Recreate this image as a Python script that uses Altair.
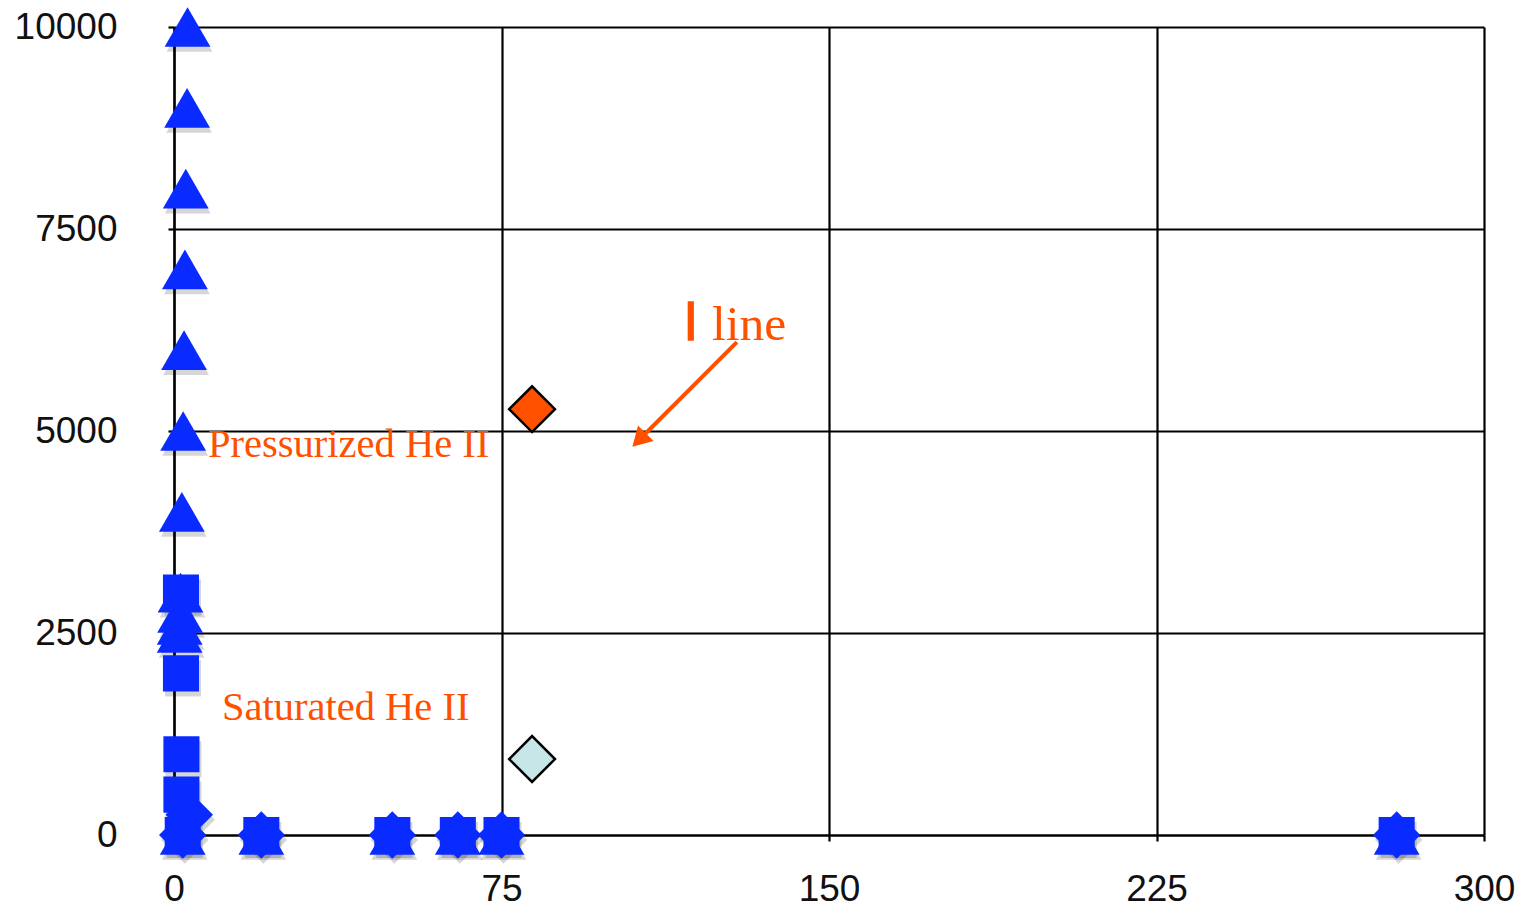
import altair as alt
import pandas as pd

# Measurements (x, y) for each marker series
tri_x = [3.1, 3.0, 2.7, 2.5, 2.3, 2.1, 1.8, 1.5, 1.4, 1.3, 1.3, 2.0, 20, 50, 65, 75, 280]
tri_y = [10000, 9000, 8000, 7000, 6000, 5000, 4000, 3000, 2750, 2600, 2500, 0, 0, 0, 0, 0, 0]

sq_x = [1.6, 1.6, 1.7, 1.7, 2.0, 20, 50, 65, 75, 280]
sq_y = [3000, 2000, 1000, 500, 0, 0, 0, 0, 0, 0]

dia_x = [3.5, 2.0, 20, 50, 65, 75, 280]
dia_y = [250, 0, 0, 0, 0, 0, 0]

hot_x = [82]
hot_y = [5270]
cold_x = [82]
cold_y = [940]

x_ticks = [0, 75, 150, 225, 300]
y_ticks = [0, 2500, 5000, 7500, 10000]

# Annotation texts and anchor positions (data units)
note_text = ["Pressurized He II", "Saturated He II", "line"]
note_x = [7.8, 11.0, 123.2]
note_y = [4680, 1420, 6125]
bar_text = ["l"]
bar_x = [117.0]
bar_y = [6125]
arrow_x = [128.9, 106.5]
arrow_y = [6101, 4889]

BLUE = "#0a2bff"
ORANGE = "#ff5000"

xs = alt.Scale(domain=[0, 300], nice=False, zero=True)
ys = alt.Scale(domain=[0, 10000], nice=False, zero=True)

x_axis = alt.Axis(values=x_ticks, format="d", title=None, labelFontSize=37,
                  labelFont="Liberation Sans", labelColor="#111111", grid=True,
                  gridColor="#000000", gridWidth=2.2, gridOpacity=1, domainColor="#000000",
                  domainWidth=2.2, tickColor="#000000", tickWidth=2.2, tickSize=6,
                  labelPadding=30, labelFlush=False, labelOverlap=False, zindex=0)
y_axis = alt.Axis(values=y_ticks, format="d", title=None, labelFontSize=37,
                  labelFont="Liberation Sans", labelColor="#111111", grid=True,
                  gridColor="#000000", gridWidth=2.2, gridOpacity=1, domainColor="#000000",
                  domainWidth=2.2, tickColor="#000000", tickWidth=2.2, tickSize=6,
                  labelPadding=51, labelOverlap=False, zindex=0)


def xy():
    return dict(x=alt.X("x:Q", scale=xs, axis=x_axis), y=alt.Y("y:Q", scale=ys, axis=y_axis))


def frame(xv, yv):
    return pd.DataFrame({"x": xv, "y": yv})


def points(xv, yv, shape, size, color, stroke=None, shadow=False):
    kw = dict(shape=shape, size=size, filled=True, opacity=1, clip=False)
    if shadow:
        kw.update(color="#000000", opacity=0.16)
    else:
        kw.update(color=color)
        if stroke:
            kw.update(stroke=stroke, strokeWidth=2.5)
    enc = xy()
    if shadow:
        enc.update(xOffset=alt.value(2), yOffset=alt.value(5))
    return alt.Chart(frame(xv, yv)).mark_point(**kw).encode(**enc)


layers = []
# soft drop shadows first
layers.append(points(tri_x, tri_y, "triangle-up", 2100, BLUE, shadow=True))
layers.append(points(sq_x, sq_y, "square", 1300, BLUE, shadow=True))
layers.append(points(dia_x, dia_y, "diamond", 2250, BLUE, shadow=True))
# markers
layers.append(points(tri_x, tri_y, "triangle-up", 2100, BLUE))
layers.append(points(sq_x, sq_y, "square", 1300, BLUE))
layers.append(points(dia_x, dia_y, "diamond", 2250, BLUE))
layers.append(points(hot_x, hot_y, "diamond", 2100, ORANGE, stroke="#000000"))
layers.append(points(cold_x, cold_y, "diamond", 2100, "#c6e6e8", stroke="#000000"))

# annotation labels
notes = pd.DataFrame({"t": note_text, "x": note_x, "y": note_y, "s": [40.5, 40.5, 49.5]})
layers.append(
    alt.Chart(notes).mark_text(font="Liberation Serif", color=ORANGE, align="left",
                               baseline="alphabetic").encode(
        **xy(), text="t:N", size=alt.Size("s:Q", scale=None, legend=None))
)
layers.append(
    alt.Chart(frame(bar_x, bar_y).assign(t=bar_text)).mark_text(
        font="Liberation Sans", fontSize=52, color=ORANGE, stroke=ORANGE, strokeWidth=1.6,
        align="left", baseline="alphabetic").encode(**xy(), text="t:N")
)

# arrow pointing at the phase boundary
arrow = pd.DataFrame({"x": [arrow_x[0]], "y": [arrow_y[0]], "x2": [arrow_x[1]], "y2": [arrow_y[1]]})
layers.append(
    alt.Chart(arrow).mark_rule(color=ORANGE, strokeWidth=4).encode(**xy(), x2="x2:Q", y2="y2:Q")
)
layers.append(
    alt.Chart(frame([arrow_x[1]], [arrow_y[1]])).mark_point(
        shape="triangle-up", size=480, filled=True, color=ORANGE, opacity=1, angle=225
    ).encode(**xy())
)

chart = alt.layer(*layers).properties(
    width=1310, height=808,
    autosize=alt.AutoSizeParams(type="none"),
    padding={"left": 174, "top": 27, "right": 35, "bottom": 72},
    background="white",
).configure_view(strokeWidth=0)

chart.save("out.html", embed_options={"renderer": "svg", "actions": False})
